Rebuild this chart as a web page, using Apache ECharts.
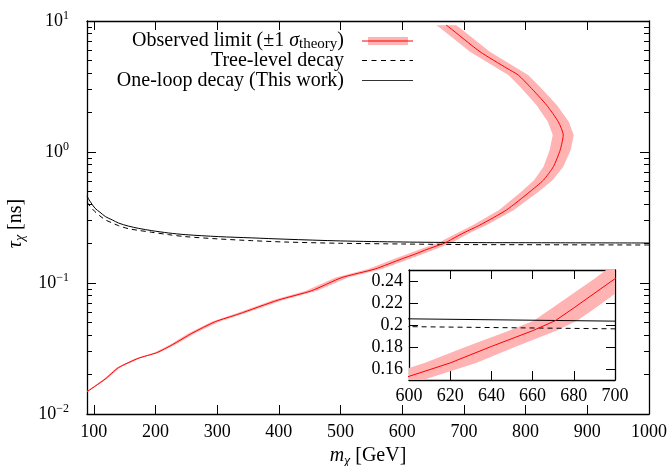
<!DOCTYPE html>
<html>
<head>
<meta charset="utf-8">
<script src="https://cdn.jsdelivr.net/npm/echarts@6/dist/echarts.min.js"></script>
<style>
  html, body { margin: 0; padding: 0; background: #fff; }
  #chart { width: 670px; height: 466px; }
</style>
</head>
<body>
<div id="chart"></div>
<script>
// observed limit, parametrised along the curve (tau in ns, mass in GeV)
const limitTau = [0.0148, 0.0184, 0.0226, 0.0266, 0.0294, 0.0337, 0.0413, 0.0507, 0.058, 0.0741,
  0.0873, 0.110, 0.128, 0.1533, 0.1655, 0.1805, 0.1948, 0.2039, 0.2155, 0.2421,
  0.277, 0.361, 0.498, 0.611, 0.773, 1.035, 1.35, 1.70, 2.28, 3.15, 3.87, 4.35, 5.83, 9.04, 9.3]
const limitMass = [89, 118, 140, 172, 202, 227, 259, 297, 335, 399,
  453, 502, 556, 600, 620, 640, 660, 671, 680, 700,
  726, 769, 807, 829, 845, 856, 861, 853, 834, 807, 788, 770, 726, 675, 671]
// +-1 sigma theory band edges
const limitMassLow = [87.5, 115.6, 137.2, 168.6, 198, 222.5, 253.8, 291, 328.3, 391,
  444, 492, 545, 587.5, 607.5, 628, 648.5, 660.5, 669.5, 690,
  715, 757, 793, 814, 829, 839, 844, 836, 817.5, 791, 772, 754, 710, 659, 655]
const limitMassHigh = [90.5, 120.4, 142.8, 175.4, 206, 231.5, 264.2, 303, 341.7, 407,
  462, 512, 567, 612.5, 632.5, 652, 671.5, 681.5, 690.5, 710,
  737, 781, 821, 844, 861, 873, 878, 870, 850.5, 823, 804, 786, 742, 691, 687]

// decay lifetimes
const decayMass = [89, 94, 102, 110, 119, 130, 140, 156, 173, 194, 221, 248, 302, 356, 410, 500, 600, 700, 800, 1000]
const tauOneLoop = [0.46, 0.42, 0.372, 0.347, 0.321, 0.303, 0.287, 0.272, 0.261, 0.251,
  0.241, 0.234, 0.226, 0.221, 0.216, 0.2095, 0.2056, 0.2035, 0.203, 0.202]
const tauTree = [0.415, 0.385, 0.350, 0.325, 0.303, 0.287, 0.274, 0.26, 0.252, 0.244,
  0.234, 0.226, 0.217, 0.2105, 0.2055, 0.201, 0.1985, 0.1965, 0.196, 0.195]

const xTicks = [100, 200, 300, 400, 500, 600, 700, 800, 900, 1000]
const yMajor = [0.01, 0.1, 1, 10]
const yMinor = [0.02, 0.03, 0.04, 0.05, 0.06, 0.07, 0.08, 0.09,
  0.2, 0.3, 0.4, 0.5, 0.6, 0.7, 0.8, 0.9, 2, 3, 4, 5, 6, 7, 8, 9]
const insetYTicks = [0.16, 0.18, 0.2, 0.22, 0.24]

const FONT = 'Liberation Serif'
const RED = '#ff0000'
const PINK = '#ffb3b3'

var myChart = echarts.init(document.getElementById('chart'), null, { renderer: 'canvas' })

var limitLine = limitTau.map((t, i) => [limitMass[i], t])
var oneLoopLine = decayMass.map((m, i) => [m, tauOneLoop[i]])
var treeLine = decayMass.map((m, i) => [m, tauTree[i]])

// band drawn as one polygon through the axis scales
function bandItem (params, api) {
  if (params.dataIndex !== 0) return null
  var pts = []
  for (var i = 0; i < limitTau.length; i++) pts.push(api.coord([limitMassHigh[i], limitTau[i]]))
  for (var j = limitTau.length - 1; j >= 0; j--) pts.push(api.coord([limitMassLow[j], limitTau[j]]))
  return { type: 'polygon', shape: { points: pts }, style: { fill: PINK } }
}

// legend samples
function svgIcon (body) {
  return 'image://data:image/svg+xml;charset=utf-8,' + encodeURIComponent(
    '<svg xmlns="http://www.w3.org/2000/svg" width="51" height="12" viewBox="0 0 51 12" preserveAspectRatio="none">' +
    body + '</svg>')
}
var bandIcon = svgIcon('<rect x="6" y="2" width="40" height="8" fill="' + PINK + '"/>' +
  '<line x1="0" y1="6" x2="51" y2="6" stroke="' + RED + '" stroke-width="1"/>')
var dashIcon = svgIcon('<line x1="0" y1="6" x2="51" y2="6" stroke="#000" stroke-width="1" stroke-dasharray="5 4.5"/>')
var solidIcon = svgIcon('<line x1="0" y1="6" x2="51" y2="6" stroke="#333" stroke-width="1.2"/>')

var rich = {
  b: { fontFamily: FONT, fontSize: 18, lineHeight: 22, color: '#000' },
  sup: { fontFamily: FONT, fontSize: 12, lineHeight: 12, verticalAlign: 'top', color: '#000' }
}
var nameRich = {
  b: { fontFamily: FONT, fontSize: 20, lineHeight: 24, color: '#000' },
  i: { fontFamily: FONT, fontSize: 20, lineHeight: 24, fontStyle: 'italic', color: '#000' },
  subi: { fontFamily: FONT, fontSize: 14, lineHeight: 16, verticalAlign: 'bottom', fontStyle: 'italic', color: '#000' }
}
var legendRich = {
  b: { fontFamily: FONT, fontSize: 20, lineHeight: 22, color: '#000' },
  i: { fontFamily: FONT, fontSize: 20, lineHeight: 22, fontStyle: 'italic', color: '#000' },
  sub: { fontFamily: FONT, fontSize: 15, lineHeight: 15, verticalAlign: 'bottom', color: '#000' }
}

function legendBox (name, top, icon) {
  return {
    data: [{ name: name, icon: icon }],
    right: 257,
    top: top,
    padding: 0,
    align: 'right',
    itemWidth: 51,
    itemHeight: 12,
    selectedMode: false,
    textStyle: { fontFamily: FONT, fontSize: 20, color: '#000', lineHeight: 22, padding: [0, 13, 0, 0], rich: legendRich },
    formatter: function (n) {
      if (n === 'Observed limit') return '{b|Observed limit (±1 }{i|σ}{sub|theory}{b|)}'
      return '{b|' + n + '}'
    }
  }
}

function axisLineStyle () {
  return { show: true, lineStyle: { color: '#000', width: 1.3 } }
}

var option = {
  animation: false,
  backgroundColor: '#fff',
  legend: [
    legendBox('Observed limit', 30, bandIcon),
    legendBox('Tree-level decay', 49.5, dashIcon),
    legendBox('One-loop decay (This work)', 69.5, solidIcon)
  ],
  grid: [
    { left: 87, right: 21, top: 21, bottom: 52, outerBoundsMode: 'none' },
    { left: 409, top: 270, width: 206, height: 110, show: true, backgroundColor: '#fff', borderWidth: 0, outerBoundsMode: 'none' }
  ],
  xAxis: [
    {
      type: 'value', gridIndex: 0, min: 89, max: 1000, position: 'bottom',
      axisLine: axisLineStyle(),
      axisTick: { show: true, inside: true, length: 9, customValues: xTicks, lineStyle: { color: '#000' } },
      axisLabel: { customValues: xTicks, margin: 9, fontFamily: FONT, fontSize: 18, color: '#000', formatter: v => String(v) },
      splitLine: { show: false },
      name: '{i|m}{subi|χ}{b| [GeV]}', nameLocation: 'middle', nameGap: 27,
      nameTextStyle: { rich: nameRich }
    },
    {
      type: 'value', gridIndex: 0, min: 89, max: 1000, position: 'top',
      axisLine: axisLineStyle(),
      axisTick: { show: true, inside: true, length: 9, customValues: xTicks, lineStyle: { color: '#000' } },
      axisLabel: { show: false },
      splitLine: { show: false }
    },
    {
      type: 'value', gridIndex: 1, min: 600, max: 700, interval: 20, position: 'bottom',
      axisLine: axisLineStyle(),
      axisTick: { show: true, inside: true, length: 9, lineStyle: { color: '#000' } },
      axisLabel: { margin: 7, fontFamily: FONT, fontSize: 18, color: '#000' },
      splitLine: { show: false }
    },
    {
      type: 'value', gridIndex: 1, min: 600, max: 700, interval: 20, position: 'top',
      axisLine: axisLineStyle(),
      axisTick: { show: true, inside: true, length: 9, lineStyle: { color: '#000' } },
      axisLabel: { show: false },
      splitLine: { show: false }
    }
  ],
  yAxis: [
    {
      type: 'log', logBase: 10, gridIndex: 0, min: 0.01, max: 10, position: 'left',
      axisLine: axisLineStyle(),
      axisTick: { show: true, inside: true, length: 9, customValues: yMajor, lineStyle: { color: '#000' } },
      axisLabel: {
        customValues: yMajor, margin: 18, rich: rich,
        formatter: function (v) {
          var e = Math.round(Math.log10(v))
          return '{b|10}{sup|' + (e < 0 ? '\u2212' + (-e) : e) + '}'
        }
      },
      splitLine: { show: false },
      name: '{i|τ}{subi|χ}{b| [ns]}', nameLocation: 'middle', nameGap: 50,
      nameTextStyle: { rich: nameRich, padding: [0, 12, 0, 0] }
    },
    {
      type: 'log', logBase: 10, gridIndex: 0, min: 0.01, max: 10, position: 'left',
      axisLine: { show: false },
      axisTick: { show: true, inside: true, length: 5, customValues: yMinor, lineStyle: { color: '#000' } },
      axisLabel: { show: false },
      splitLine: { show: false }
    },
    {
      type: 'log', logBase: 10, gridIndex: 0, min: 0.01, max: 10, position: 'right',
      axisLine: axisLineStyle(),
      axisTick: { show: true, inside: true, length: 9, customValues: yMajor, lineStyle: { color: '#000' } },
      axisLabel: { show: false },
      splitLine: { show: false }
    },
    {
      type: 'log', logBase: 10, gridIndex: 0, min: 0.01, max: 10, position: 'right',
      axisLine: { show: false },
      axisTick: { show: true, inside: true, length: 5, customValues: yMinor, lineStyle: { color: '#000' } },
      axisLabel: { show: false },
      splitLine: { show: false }
    },
    {
      type: 'value', gridIndex: 1, min: 0.15, max: 0.25, position: 'left',
      axisLine: axisLineStyle(),
      axisTick: { show: true, inside: true, length: 9, customValues: insetYTicks, lineStyle: { color: '#000' } },
      axisLabel: { customValues: insetYTicks, margin: 6, fontFamily: FONT, fontSize: 18, color: '#000' },
      splitLine: { show: false }
    },
    {
      type: 'value', gridIndex: 1, min: 0.15, max: 0.25, position: 'right',
      axisLine: axisLineStyle(),
      axisTick: { show: true, inside: true, length: 9, customValues: insetYTicks, lineStyle: { color: '#000' } },
      axisLabel: { show: false },
      splitLine: { show: false }
    }
  ],
  series: [
    {
      name: 'band', type: 'custom', xAxisIndex: 0, yAxisIndex: 0, clip: true,
      renderItem: bandItem, data: [[limitMass[0], limitTau[0]]], z: 1, silent: true
    },
    {
      name: 'Observed limit', type: 'line', xAxisIndex: 0, yAxisIndex: 0, data: limitLine,
      showSymbol: false, symbol: 'none', smooth: 0.2, clip: true, z: 3,
      lineStyle: { color: RED, width: 1 }, itemStyle: { color: RED }
    },
    {
      name: 'Tree-level decay', type: 'line', xAxisIndex: 0, yAxisIndex: 0, data: treeLine,
      showSymbol: false, symbol: 'none', smooth: 0.3, clip: true, z: 2,
      lineStyle: { color: '#000', width: 1, type: [5, 4] }, itemStyle: { color: '#000' }
    },
    {
      name: 'One-loop decay (This work)', type: 'line', xAxisIndex: 0, yAxisIndex: 0, data: oneLoopLine,
      showSymbol: false, symbol: 'none', smooth: 0.3, clip: true, z: 2,
      lineStyle: { color: '#000', width: 1 }, itemStyle: { color: '#000' }
    },
    // inset
    {
      name: 'band inset', type: 'custom', xAxisIndex: 2, yAxisIndex: 4, clip: true,
      renderItem: bandItem, data: [[650, 0.2]], z: 1, silent: true
    },
    {
      name: 'limit inset', type: 'line', xAxisIndex: 2, yAxisIndex: 4, data: limitLine,
      showSymbol: false, symbol: 'none', clip: true, z: 3,
      lineStyle: { color: RED, width: 1 }
    },
    {
      name: 'tree inset', type: 'line', xAxisIndex: 2, yAxisIndex: 4, data: treeLine,
      showSymbol: false, symbol: 'none', clip: true, z: 2,
      lineStyle: { color: '#000', width: 1, type: [5, 4] }
    },
    {
      name: 'loop inset', type: 'line', xAxisIndex: 2, yAxisIndex: 4, data: oneLoopLine,
      showSymbol: false, symbol: 'none', clip: true, z: 2,
      lineStyle: { color: '#000', width: 1 }
    }
  ]
}
myChart.setOption(option, true)
</script>
</body>
</html>
